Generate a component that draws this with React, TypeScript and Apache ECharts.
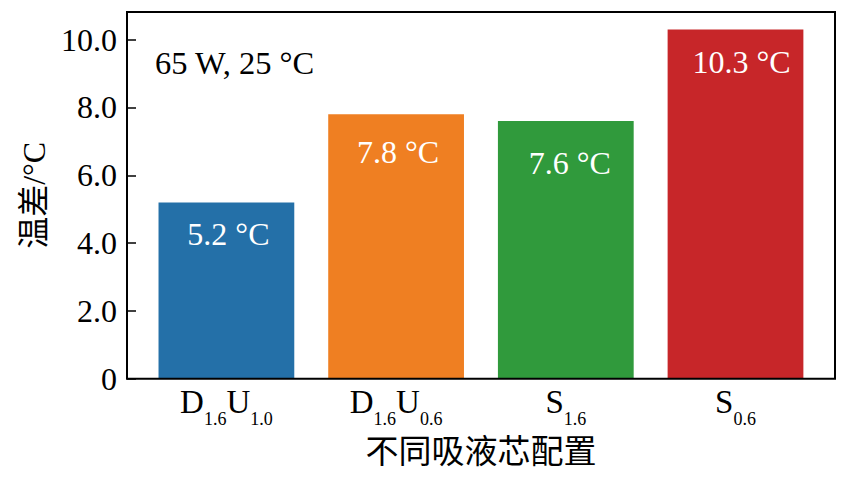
import React, { useEffect, useRef } from "react";
import * as echarts from "echarts";

const categories = ["D1.6U1.0", "D1.6U0.6", "S1.6", "S0.6"];
const categoryRich = ["{m|D}{s|1.6}{m|U}{s|1.0}", "{m|D}{s|1.6}{m|U}{s|0.6}", "{m|S}{s|1.6}", "{m|S}{s|0.6}"];
const values = [5.2, 7.8, 7.6, 10.3];
const colors = ["#2470a8", "#ef7f22", "#309a3c", "#c72629"];
const yTicks = [0, 2, 4, 6, 8, 10];
const yMax = 10.815;
const annotation = "65 W, 25 °C";
const yName = "温差/°C";
const xName = "不同吸液芯配置";

// label nudges (px) to match the reference's hand-placed value labels
const labelOffsets = [
  [2, 1],
  [2, 7],
  [4, 11],
  [6, 2],
];

const FONT = "'Liberation Serif', 'Times New Roman', 'Noto Sans CJK SC', serif";

export default function App() {
  const ref = useRef<HTMLDivElement>(null);
  useEffect(() => {
    if (!ref.current) return;
    const chart = echarts.init(ref.current, undefined, { renderer: "svg" });
    const option: any = {
      animation: false,
      backgroundColor: "#fff",
      textStyle: { fontFamily: FONT },
      grid: [
        { left: 127, right: 20, top: 12, bottom: 103.3, show: true, borderColor: "#000", borderWidth: 2, backgroundColor: "transparent", z: 5 },
        { left: 141.55, right: 34.65, top: 12, bottom: 103.3 },
      ],
      xAxis: [
        { type: "value", gridIndex: 0, show: false, min: 0, max: 1 },
        {
          type: "category",
          gridIndex: 1,
          data: categories,
          axisLine: { show: false },
          axisTick: { show: false },
          axisLabel: {
            interval: 0,
            margin: 7,
            formatter: (_v: string, i: number) => categoryRich[i],
            rich: {
              m: { fontFamily: FONT, fontSize: 33, color: "#000", lineHeight: 35, verticalAlign: "top" },
              s: { fontFamily: FONT, fontSize: 18, color: "#000", lineHeight: 18, verticalAlign: "top", padding: [24, 0, 0, 0] },
            },
          },
          name: xName,
          nameLocation: "middle",
          nameGap: 57,
          nameTextStyle: { fontFamily: FONT, fontSize: 33, color: "#000" },
        },
      ],
      yAxis: [
        {
          type: "value",
          gridIndex: 0,
          min: 0,
          max: yMax,
          interval: 2,
          splitLine: { show: false },
          axisLine: { show: false },
          axisTick: { show: true, inside: true, length: 9, lineStyle: { color: "#000", width: 1.5 } },
          axisLabel: {
            showMaxLabel: false,
            margin: 10,
            fontFamily: FONT,
            fontSize: 32,
            color: "#000",
            formatter: (v: number) => (yTicks.includes(v) ? (v === 0 ? "0" : v.toFixed(1)) : ""),
          },
          name: yName,
          nameLocation: "middle",
          nameGap: 70,
          nameRotate: 90,
          nameTextStyle: { fontFamily: FONT, fontSize: 32, color: "#000" },
        },
        { type: "value", gridIndex: 1, min: 0, max: yMax, show: false, splitLine: { show: false } },
      ],
      series: [
        {
          type: "bar",
          xAxisIndex: 1,
          yAxisIndex: 1,
          barWidth: "80%",
          data: values.map((v, i) => ({
            value: v,
            itemStyle: { color: colors[i] },
            label: { offset: labelOffsets[i] },
          })),
          label: {
            show: true,
            position: "insideTop",
            distance: 15,
            fontFamily: FONT,
            fontSize: 32,
            color: "#fff",
            formatter: (p: any) => `${Number(p.value).toFixed(1)} °C`,
          },
        },
      ],
      graphic: [
        {
          type: "text",
          left: 155,
          top: 47,
          style: { text: annotation, fontFamily: FONT, fontSize: 32.5, fill: "#000" },
          z: 10,
        },
      ],
    };
    chart.setOption(option);
    return () => chart.dispose();
  }, []);
  return <div ref={ref} style={{ position: "fixed", left: 0, top: 0, width: 855, height: 482 }} />;
}
